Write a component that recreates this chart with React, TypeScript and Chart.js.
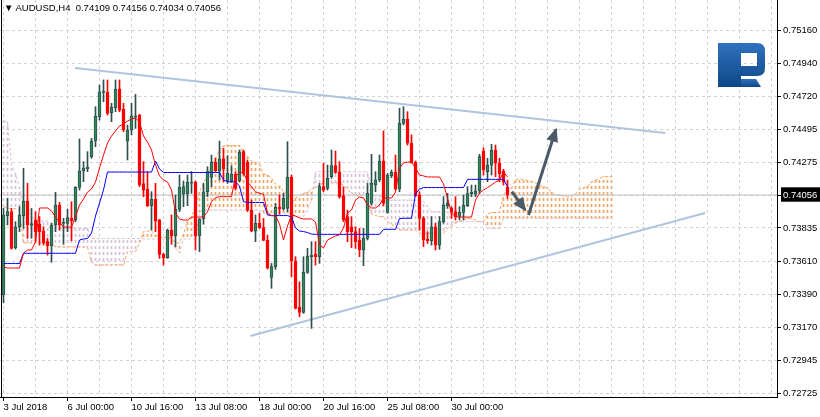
import React, { useEffect, useRef } from 'react';
import { Chart, registerables } from 'chart.js';

Chart.register(...registerables);

// ---------------- header ----------------
const SYMBOL = 'AUDUSD,H4';
const HEADER_OHLC = ['0.74109', '0.74156', '0.74034', '0.74056'];
const LAST_PRICE = 0.74056;

// ---------------- axes ----------------
const X_LABELS = ['3 Jul 2018', '6 Jul 00:00', '10 Jul 16:00', '13 Jul 08:00', '18 Jul 00:00', '20 Jul 16:00', '25 Jul 08:00', '30 Jul 00:00'];
const X_LABEL_STEP = 16; // bars between date labels
const X_GRID_STEP = 8; // bars between vertical grid lines
const Y_TICKS = [0.72725, 0.72945, 0.7317, 0.7339, 0.7361, 0.73835, 0.74056, 0.74275, 0.74495, 0.7472, 0.7494, 0.7516];
const X_MIN = -0.875;
const X_MAX = 193.375;
const Y_MIN = 0.727006;
const Y_MAX = 0.753645;

// ---------------- candles (H4) ----------------
const OPEN = [
  0.73385, 0.73917, 0.73944, 0.73702, 0.73843, 0.73917, 0.74016, 0.73852, 0.73888, 0.73861,
  0.73814, 0.73743, 0.73716, 0.73855, 0.73989, 0.73866, 0.73866, 0.73899, 0.73888, 0.74107,
  0.74219, 0.74233, 0.74313, 0.7442, 0.74582, 0.74745, 0.74745, 0.74608, 0.74642, 0.74767,
  0.74631, 0.74418, 0.74492, 0.74579, 0.74593, 0.74132, 0.74096, 0.73984, 0.74029, 0.73888,
  0.73658, 0.73636, 0.73821, 0.73781, 0.7396, 0.74063, 0.74063, 0.74136, 0.74141, 0.73781,
  0.73895, 0.74078, 0.74174, 0.74275, 0.74217, 0.74298, 0.7415, 0.7415, 0.74197, 0.7415,
  0.74347, 0.74275, 0.73955, 0.73814, 0.73866, 0.73837, 0.73752, 0.73503, 0.73575, 0.73973,
  0.73962, 0.73966, 0.74174, 0.73615, 0.73302, 0.73268, 0.73537, 0.73642, 0.73658, 0.73642,
  0.74112, 0.741, 0.74179, 0.74253, 0.74208, 0.7405, 0.73911, 0.73843, 0.7381, 0.73754,
  0.73687, 0.73765, 0.74, 0.74123, 0.74157, 0.74284, 0.73939, 0.74186, 0.74208, 0.74096,
  0.74537, 0.74566, 0.74403, 0.74275, 0.74056, 0.73899, 0.73761, 0.73749, 0.73843, 0.7372,
  0.73877, 0.73984, 0.73966, 0.73944, 0.73913, 0.73939, 0.73984, 0.74063, 0.74061, 0.74083,
  0.74351, 0.74213, 0.74257, 0.74358, 0.74269, 0.74217, 0.74109,
];
const HIGH = [
  0.73966, 0.74034, 0.73966, 0.73877, 0.73978, 0.74235, 0.74134, 0.73966, 0.73944, 0.73911,
  0.73843, 0.73765, 0.73866, 0.74074, 0.74007, 0.73899, 0.73962, 0.74011, 0.74112, 0.74432,
  0.7428, 0.74347, 0.74436, 0.74649, 0.74794, 0.74828, 0.74828, 0.74671, 0.74828, 0.74828,
  0.74671, 0.74526, 0.74671, 0.74731, 0.74598, 0.7428, 0.74213, 0.74078, 0.74134, 0.73893,
  0.73665, 0.73828, 0.73922, 0.74056, 0.7419, 0.7415, 0.7419, 0.74213, 0.7415, 0.73899,
  0.74134, 0.74246, 0.74324, 0.74302, 0.74418, 0.74369, 0.7432, 0.74253, 0.74213, 0.74358,
  0.74358, 0.74291, 0.74022, 0.73922, 0.73933, 0.73899, 0.73787, 0.73597, 0.74, 0.74056,
  0.74067, 0.74414, 0.7419, 0.73642, 0.73474, 0.73642, 0.73698, 0.73743, 0.73743, 0.74134,
  0.74269, 0.74257, 0.74358, 0.74351, 0.7428, 0.74112, 0.73955, 0.73911, 0.73843, 0.73832,
  0.73832, 0.74134, 0.74329, 0.74213, 0.74324, 0.74486, 0.74201, 0.74224, 0.74324, 0.74638,
  0.74649, 0.74615, 0.74459, 0.74284, 0.74078, 0.73911, 0.7381, 0.73911, 0.73866, 0.73911,
  0.74045, 0.74067, 0.73978, 0.74045, 0.73978, 0.74056, 0.74112, 0.74123, 0.74123, 0.74329,
  0.74373, 0.74302, 0.74396, 0.74391, 0.74302, 0.74228, 0.74156,
];
const LOW = [
  0.73333, 0.73855, 0.73693, 0.73693, 0.7381, 0.73832, 0.73765, 0.73765, 0.73743, 0.7372,
  0.7372, 0.73653, 0.73604, 0.7381, 0.73821, 0.73725, 0.7381, 0.73749, 0.73877, 0.74089,
  0.74145, 0.74213, 0.74302, 0.7438, 0.74559, 0.74682, 0.74593, 0.74548, 0.74615, 0.74615,
  0.74481, 0.74291, 0.74459, 0.74503, 0.74112, 0.74045, 0.73978, 0.73821, 0.7381, 0.73631,
  0.73586, 0.73631, 0.73725, 0.73709, 0.73944, 0.73978, 0.73984, 0.74067, 0.73687, 0.73676,
  0.7386, 0.74045, 0.74112, 0.74213, 0.74157, 0.74145, 0.74134, 0.74141, 0.74089, 0.74145,
  0.7419, 0.73944, 0.7381, 0.73743, 0.73832, 0.73749, 0.73559, 0.7343, 0.73557, 0.73926,
  0.73955, 0.73944, 0.73508, 0.73291, 0.73239, 0.73262, 0.7353, 0.73161, 0.73586, 0.73597,
  0.74078, 0.74089, 0.74168, 0.74201, 0.74034, 0.73877, 0.73743, 0.73702, 0.73698, 0.73642,
  0.73582, 0.73754, 0.73989, 0.74078, 0.74145, 0.73984, 0.73933, 0.74172, 0.74089, 0.74078,
  0.74526, 0.74391, 0.74269, 0.74045, 0.73821, 0.73709, 0.73731, 0.7372, 0.73687, 0.73691,
  0.73866, 0.73966, 0.73899, 0.73888, 0.73888, 0.73888, 0.73978, 0.74045, 0.74045, 0.74067,
  0.7419, 0.74145, 0.7419, 0.74179, 0.74145, 0.74123, 0.74034,
];
const CLOSE = [
  0.73922, 0.73944, 0.73698, 0.73843, 0.73922, 0.74016, 0.73855, 0.73864, 0.7381, 0.7381,
  0.73736, 0.73716, 0.73852, 0.73989, 0.73855, 0.73873, 0.73904, 0.73884, 0.74107, 0.74219,
  0.74237, 0.74244, 0.74418, 0.74586, 0.74749, 0.74754, 0.74604, 0.74644, 0.74767, 0.74626,
  0.74492, 0.74492, 0.74588, 0.74588, 0.74123, 0.74089, 0.73982, 0.74029, 0.73881, 0.73658,
  0.73636, 0.73821, 0.73781, 0.7396, 0.74107, 0.74112, 0.74141, 0.74141, 0.73781, 0.73895,
  0.74078, 0.74213, 0.74275, 0.74217, 0.74298, 0.74231, 0.74201, 0.74197, 0.741, 0.74342,
  0.74201, 0.73955, 0.73814, 0.73866, 0.73837, 0.73752, 0.73568, 0.73575, 0.73973, 0.73962,
  0.74034, 0.74174, 0.73615, 0.73295, 0.73268, 0.73537, 0.73647, 0.73653, 0.73642, 0.74112,
  0.74089, 0.74168, 0.74253, 0.74208, 0.74045, 0.73888, 0.7381, 0.7381, 0.73743, 0.73687,
  0.73765, 0.74067, 0.74134, 0.74157, 0.74284, 0.74, 0.7419, 0.74208, 0.74096, 0.74537,
  0.74566, 0.74403, 0.74275, 0.74051, 0.73899, 0.73754, 0.73749, 0.73843, 0.7372, 0.73877,
  0.73989, 0.74, 0.73939, 0.73911, 0.73939, 0.73989, 0.74065, 0.74074, 0.74083, 0.74313,
  0.74224, 0.74257, 0.74358, 0.74269, 0.74197, 0.74145, 0.74056,
];

// ---------------- Ichimoku ----------------
const TENKAN = [
  0.73573, 0.73566, 0.73566, 0.73566, 0.73566, 0.73667, 0.73687, 0.73687, 0.73741, 0.73969,
  0.73969, 0.73969, 0.73949, 0.73908, 0.73875, 0.73841, 0.73841, 0.73841, 0.73908, 0.73989,
  0.74029, 0.74076, 0.74096, 0.74143, 0.74237, 0.74324, 0.74405, 0.74452, 0.74485, 0.74519,
  0.74532, 0.74553, 0.74566, 0.74573, 0.74546, 0.74452, 0.74412, 0.74358, 0.74257, 0.74184,
  0.74157, 0.74143, 0.7409, 0.73935, 0.73895, 0.73888, 0.73888, 0.73908, 0.73908, 0.73908,
  0.73908, 0.73944, 0.74011, 0.74038, 0.74045, 0.74045, 0.74045, 0.74045, 0.74179, 0.74208,
  0.74208, 0.74145, 0.74112, 0.74078, 0.74067, 0.74061, 0.73933, 0.73917, 0.73917, 0.73861,
  0.73754, 0.73848, 0.73922, 0.73915, 0.73902, 0.73895, 0.73895, 0.73895, 0.73875, 0.73721,
  0.737, 0.73754, 0.73768, 0.73781, 0.73788, 0.73835, 0.73935, 0.73955, 0.74022, 0.74043,
  0.74036, 0.73989, 0.73969, 0.73969, 0.73989, 0.74036, 0.74036, 0.74036, 0.74076, 0.74237,
  0.74271, 0.74277, 0.74277, 0.74237, 0.7419, 0.74184, 0.74177, 0.74177, 0.74177, 0.74177,
  0.7413, 0.74036, 0.73935, 0.7391, 0.73908, 0.73908, 0.73908, 0.73908, 0.74022, 0.74069,
  0.7409, 0.74106, 0.74123, 0.74143, 0.74157, 0.7421, 0.74177,
];
const KIJUN = [
  0.73596, 0.73596, 0.73596, 0.73596, 0.73596, 0.73665, 0.73665, 0.73665, 0.73665, 0.73665,
  0.73665, 0.73665, 0.73665, 0.73665, 0.73665, 0.73665, 0.73665, 0.73665, 0.73665, 0.73754,
  0.73761, 0.73764, 0.73801, 0.73915, 0.74002, 0.7409, 0.7421, 0.7421, 0.7421, 0.7421,
  0.7421, 0.7421, 0.7421, 0.7421, 0.7421, 0.7421, 0.7421, 0.7421, 0.74284, 0.74231,
  0.74207, 0.74207, 0.74207, 0.74207, 0.74207, 0.74207, 0.74207, 0.74207, 0.74207, 0.74207,
  0.74207, 0.74207, 0.74207, 0.74207, 0.74207, 0.74157, 0.74145, 0.74145, 0.74145, 0.74116,
  0.74011, 0.74006, 0.74006, 0.74006, 0.74006, 0.74006, 0.73922, 0.73918, 0.73918, 0.73918,
  0.73918, 0.73918, 0.73908, 0.73835, 0.73814, 0.73811, 0.73804, 0.73794, 0.73792, 0.73792,
  0.73792, 0.73792, 0.73792, 0.73792, 0.73792, 0.73792, 0.73792, 0.73792, 0.73792, 0.73792,
  0.73792, 0.73792, 0.73792, 0.73792, 0.73792, 0.73825, 0.73826, 0.73826, 0.73826, 0.73898,
  0.739, 0.739, 0.739, 0.74063, 0.74096, 0.74106, 0.74106, 0.74106, 0.74106, 0.74106,
  0.74106, 0.74106, 0.74106, 0.74106, 0.74106, 0.74106, 0.74161, 0.74161, 0.74161, 0.74161,
  0.74161, 0.74161, 0.74161, 0.74161, 0.74161, 0.74161, 0.74112,
];
const SPAN_A = [
  0.73975, 0.73969, 0.73965, 0.73965, 0.73955, 0.73734, 0.73734, 0.73734, 0.73734, 0.73734,
  0.73734, 0.73734, 0.73734, 0.73709, 0.73707, 0.73707, 0.73707, 0.73707, 0.73707, 0.73707,
  0.73707, 0.73707, 0.73606, 0.73586, 0.73586, 0.73586, 0.73586, 0.73586, 0.73586, 0.73586,
  0.73586, 0.73674, 0.73677, 0.73677, 0.73734, 0.73811, 0.73814, 0.73814, 0.73788, 0.73771,
  0.73771, 0.73771, 0.73771, 0.73734, 0.73734, 0.73794, 0.73882, 0.73902, 0.73989, 0.74076,
  0.74137, 0.7419, 0.74251, 0.74304, 0.74351, 0.74385, 0.74388, 0.74388, 0.74388, 0.74388,
  0.74338, 0.74313, 0.74284, 0.74275, 0.74262, 0.74197, 0.7419, 0.7417, 0.7413, 0.74116,
  0.74076, 0.74074, 0.74002, 0.74036, 0.74049, 0.74066, 0.74076, 0.74096, 0.74105, 0.74123,
  0.74137, 0.74137, 0.74137, 0.74137, 0.74137, 0.74123, 0.7409, 0.74069, 0.74056, 0.74046,
  0.74036, 0.74022, 0.73929, 0.73918, 0.73912, 0.7391, 0.73875, 0.73861, 0.73841, 0.73821,
  0.73821, 0.73821, 0.73821, 0.73821, 0.73799, 0.73799, 0.73799, 0.73799, 0.73799, 0.73799,
  0.73799, 0.73833, 0.73848, 0.73868, 0.73877, 0.73888, 0.739, 0.73895, 0.73888, 0.73877,
  0.73877, 0.73929, 0.73939, 0.73939, 0.73939, 0.74056, 0.7409, 0.74101, 0.74157, 0.74168,
  0.74157, 0.74153, 0.74147, 0.74137, 0.74123, 0.74112, 0.74101, 0.74076, 0.74056, 0.74056,
  0.74049, 0.74045, 0.74045, 0.74063, 0.74096, 0.74103, 0.74116, 0.74143, 0.74157, 0.74167,
  0.74179, 0.74179, 0.74179,
];
const SPAN_B = [
  0.74553, 0.74546, 0.74257, 0.74204, 0.74103, 0.73989, 0.73975, 0.73922, 0.73882, 0.73882,
  0.73882, 0.73882, 0.73868, 0.73848, 0.73835, 0.73831, 0.73831, 0.73831, 0.73831, 0.73831,
  0.73831, 0.73831, 0.73764, 0.73764, 0.73764, 0.73764, 0.73764, 0.73764, 0.73764, 0.73764,
  0.73764, 0.73764, 0.73764, 0.73764, 0.73764, 0.73761, 0.73761, 0.73761, 0.73761, 0.73761,
  0.73761, 0.73761, 0.73761, 0.737, 0.73667, 0.73761, 0.73761, 0.73761, 0.73761, 0.73942,
  0.73955, 0.73955, 0.73955, 0.73955, 0.73955, 0.73955, 0.73955, 0.73955, 0.73955, 0.73955,
  0.73955, 0.73955, 0.73955, 0.73955, 0.73955, 0.73935, 0.73935, 0.73935, 0.73935, 0.73935,
  0.73935, 0.73935, 0.73935, 0.73915, 0.73915, 0.73915, 0.73955, 0.74022, 0.74212, 0.74212,
  0.74212, 0.74212, 0.74212, 0.74212, 0.74212, 0.74212, 0.74212, 0.74212, 0.74212, 0.74212,
  0.74212, 0.74212, 0.74069, 0.74045, 0.74045, 0.74045, 0.74022, 0.74022, 0.74022, 0.74022,
  0.74022, 0.74022, 0.74022, 0.74022, 0.74022, 0.74011, 0.73982, 0.73944, 0.73944, 0.73944,
  0.73944, 0.73944, 0.73877, 0.73877, 0.73877, 0.73877, 0.73877, 0.73877, 0.73877, 0.73877,
  0.73877, 0.73835, 0.73833, 0.73833, 0.73833, 0.739, 0.739, 0.739, 0.739, 0.739,
  0.739, 0.739, 0.739, 0.739, 0.739, 0.739, 0.739, 0.739, 0.739, 0.739,
  0.739, 0.739, 0.739, 0.739, 0.739, 0.739, 0.739, 0.739, 0.739, 0.739,
  0.739, 0.739, 0.739,
];

// ---------------- drawn objects (bar index, price) ----------------
const TREND_UPPER = [[17.9, 0.74908], [165.4, 0.74472]];
const TREND_LOWER = [[61.7, 0.7311], [175.4, 0.73935]];
const ARROW_DOWN = [[127.1, 0.74078], [130.4, 0.73956]];
const ARROW_UP = [[131.25, 0.73922], [138.1, 0.74495]];

// ---------------- styles ----------------
const FONT = { family: '"Liberation Sans", Arial, sans-serif', size: 9.5 };
const GRID_COLOR = '#d3d3d3';
const BULL_BODY = '#2e8b57';
const BULL_LINE = '#2f4f4f';
const BEAR = '#ff0000';
const SPAN_A_COLOR = '#f4a460';
const SPAN_B_COLOR = '#d8bfd8';
const TREND_COLOR = '#b0c4de';
const ARROW_COLOR = '#4b5a66';

function makeHatch(color: string): CanvasPattern | string {
  const c = document.createElement('canvas');
  c.width = 1;
  c.height = 6;
  const g = c.getContext('2d');
  if (!g) return color;
  g.fillStyle = color;
  g.fillRect(0, 0, 1, 3);
  return g.createPattern(c, 'repeat') || color;
}

const pts = (arr: number[][]) => arr.map(([x, y]) => ({ x, y }));

const decorPlugin = {
  id: 'decor',
  afterDatasetsDraw(chart: any) {
    const ctx = chart.ctx;
    chart.data.datasets.forEach((ds: any, di: number) => {
      if (!ds.arrowHead) return;
      const data = chart.getDatasetMeta(di).data;
      const a = data[0];
      const b = data[data.length - 1];
      const dx = b.x - a.x;
      const dy = b.y - a.y;
      const L = Math.hypot(dx, dy) || 1;
      const ux = dx / L;
      const uy = dy / L;
      const tipX = b.x + ux * 2;
      const tipY = b.y + uy * 2;
      const len = 14;
      const half = 6;
      const bx = tipX - ux * len;
      const by = tipY - uy * len;
      ctx.save();
      ctx.fillStyle = ds.borderColor;
      ctx.beginPath();
      ctx.moveTo(tipX, tipY);
      ctx.lineTo(bx - uy * half, by + ux * half);
      ctx.lineTo(bx + uy * half, by - ux * half);
      ctx.closePath();
      ctx.fill();
      ctx.restore();
    });
  },
  afterDraw(chart: any) {
    const { ctx, chartArea } = chart;
    ctx.save();
    ctx.fillStyle = '#000';
    ctx.fillRect(chartArea.left + 1, chartArea.top, 1, chartArea.bottom - chartArea.top);
    ctx.restore();
  },
};

export default function App() {
  const ref = useRef<HTMLCanvasElement>(null);

  useEffect(() => {
    document.body.style.margin = '0';
    const canvas = ref.current;
    if (!canvas) return;

    const bars = OPEN.map((_, i) => i);
    const bull = bars.map((i) => CLOSE[i] >= OPEN[i]);
    const hatchA = makeHatch(SPAN_A_COLOR);
    const hatchB = makeHatch(SPAN_B_COLOR);
    const cloudBars = SPAN_A.map((_, i) => i);

    const datasets: any[] = [
      {
        type: 'bar',
        label: 'cloud',
        data: cloudBars.map((i) => ({ x: i, y: [SPAN_A[i], SPAN_B[i]] })),
        backgroundColor: cloudBars.map((i) => (SPAN_A[i] >= SPAN_B[i] ? hatchA : hatchB)),
        borderWidth: 0,
        barThickness: 1,
        grouped: false,
        order: 10,
      },
      {
        type: 'line',
        label: 'Senkou A',
        data: cloudBars.map((i) => ({ x: i, y: SPAN_A[i] })),
        borderColor: SPAN_A_COLOR,
        borderWidth: 1,
        borderDash: [3, 2],
        pointRadius: 0,
        tension: 0,
        order: 9,
      },
      {
        type: 'line',
        label: 'Senkou B',
        data: cloudBars.map((i) => ({ x: i, y: SPAN_B[i] })),
        borderColor: SPAN_B_COLOR,
        borderWidth: 1,
        borderDash: [3, 2],
        pointRadius: 0,
        tension: 0,
        order: 9,
      },
      {
        type: 'line',
        label: 'price',
        data: [
          { x: X_MIN, y: LAST_PRICE },
          { x: X_MAX, y: LAST_PRICE },
        ],
        borderColor: '#c0c0c0',
        borderWidth: 1,
        pointRadius: 0,
        order: 8,
      },
      {
        type: 'line',
        label: 'trend upper',
        data: pts(TREND_UPPER),
        borderColor: TREND_COLOR,
        borderWidth: 2,
        pointRadius: 0,
        order: 7,
      },
      {
        type: 'line',
        label: 'trend lower',
        data: pts(TREND_LOWER),
        borderColor: TREND_COLOR,
        borderWidth: 2,
        pointRadius: 0,
        order: 7,
      },
      {
        type: 'bar',
        label: 'wick',
        data: bars.map((i) => ({ x: i, y: [LOW[i], HIGH[i]] })),
        backgroundColor: bars.map((i) => (bull[i] ? BULL_LINE : BEAR)),
        borderWidth: 0,
        barThickness: 1,
        grouped: false,
        order: 6,
      },
      {
        type: 'bar',
        label: 'body',
        data: bars.map((i) => ({ x: i, y: [OPEN[i], CLOSE[i]] })),
        backgroundColor: bars.map((i) => (bull[i] ? BULL_BODY : BEAR)),
        borderColor: bars.map((i) => (bull[i] ? BULL_LINE : BEAR)),
        borderWidth: 1,
        borderSkipped: false,
        barThickness: 3,
        minBarLength: 1,
        grouped: false,
        order: 5,
      },
      {
        type: 'line',
        label: 'Kijun-sen',
        data: bars.map((i) => ({ x: i, y: KIJUN[i] })),
        borderColor: '#0000ff',
        borderWidth: 1,
        pointRadius: 0,
        tension: 0,
        order: 4,
      },
      {
        type: 'line',
        label: 'Tenkan-sen',
        data: bars.map((i) => ({ x: i, y: TENKAN[i] })),
        borderColor: '#ff0000',
        borderWidth: 1,
        pointRadius: 0,
        tension: 0,
        order: 3,
      },
      {
        type: 'line',
        label: 'arrow down',
        data: pts(ARROW_DOWN),
        borderColor: ARROW_COLOR,
        borderWidth: 3,
        pointRadius: 0,
        arrowHead: true,
        order: 1,
      },
      {
        type: 'line',
        label: 'arrow up',
        data: pts(ARROW_UP),
        borderColor: ARROW_COLOR,
        borderWidth: 3,
        pointRadius: 0,
        arrowHead: true,
        order: 1,
      },
    ];

    const gridTicks: number[] = [];
    for (let v = 0; v <= X_MAX; v += X_GRID_STEP) gridTicks.push(v);
    const isLabeled = (v: number) => v % X_LABEL_STEP === 0 && v / X_LABEL_STEP < X_LABELS.length;

    const chart = new Chart(canvas, {
      type: 'bar',
      data: { datasets },
      options: {
        responsive: false,
        animation: false,
        events: [],
        layout: { padding: 0 },
        plugins: {
          legend: { display: false },
          tooltip: { enabled: false },
          title: { display: false },
        },
        scales: {
          x: {
            type: 'linear',
            min: X_MIN,
            max: X_MAX,
            offset: false,
            afterBuildTicks: (s: any) => {
              s.ticks = gridTicks.map((v) => ({ value: v }));
            },
            afterFit: (s: any) => {
              s.height = 20;
              s.paddingLeft = 0;
              s.paddingRight = 0;
            },
            ticks: {
              autoSkip: false,
              maxRotation: 0,
              minRotation: 0,
              align: 'start',
              padding: 1,
              color: '#000',
              font: FONT,
              callback: (v: any) => (isLabeled(Number(v)) ? X_LABELS[Number(v) / X_LABEL_STEP] : ''),
            },
            grid: {
              offset: false,
              color: GRID_COLOR,
              lineWidth: 1,
              drawTicks: true,
              tickLength: 4,
              tickWidth: 1,
              tickColor: (ctx: any) => (ctx.tick && isLabeled(ctx.tick.value) ? '#000' : 'rgba(0,0,0,0)'),
            },
            border: { display: true, color: '#000', width: 1, dash: [3, 3] },
          },
          y: {
            type: 'linear',
            position: 'right',
            min: Y_MIN,
            max: Y_MAX,
            afterBuildTicks: (s: any) => {
              s.ticks = Y_TICKS.map((v) => ({ value: v }));
            },
            afterFit: (s: any) => {
              s.width = 43;
              s.paddingTop = 0;
              s.paddingBottom = 0;
            },
            ticks: {
              padding: 2,
              font: FONT,
              color: (ctx: any) => (ctx.tick && ctx.tick.value === LAST_PRICE ? '#fff' : '#000'),
              showLabelBackdrop: (ctx: any) => !!(ctx.tick && ctx.tick.value === LAST_PRICE),
              backdropColor: '#000',
              backdropPadding: { top: 2, bottom: 1, left: 2, right: 4 },
              callback: (v: any) => Number(v).toFixed(5),
            },
            grid: {
              color: GRID_COLOR,
              lineWidth: 1,
              drawTicks: true,
              tickLength: 4,
              tickWidth: 1,
              tickColor: '#000',
            },
            border: { display: true, color: '#000', width: 1, dash: [3, 3] },
          },
        },
      } as any,
      plugins: [decorPlugin as any],
    });

    return () => chart.destroy();
  }, []);

  return (
    <div style={{ position: 'fixed', left: 0, top: 0, width: 820, height: 417, background: '#fff', overflow: 'hidden' }}>
      <canvas ref={ref} width={820} height={417} style={{ display: 'block', width: 820, height: 417 }} />
      <div
        style={{
          position: 'absolute',
          left: 4,
          top: 2,
          font: '9.5px "Liberation Sans", Arial, sans-serif',
          color: '#000',
          whiteSpace: 'pre',
          lineHeight: '12px',
        }}
      >
        {'▼ ' + SYMBOL + '  ' + HEADER_OHLC.join(' ')}
      </div>
      <svg width={820} height={417} style={{ position: 'absolute', left: 0, top: 0, pointerEvents: 'none' }}>
        <defs>
          <linearGradient id="rfg" x1="0" y1="0" x2="0" y2="1">
            <stop offset="0" stopColor="#2f72bd" />
            <stop offset="1" stopColor="#0e4787" />
          </linearGradient>
        </defs>
        <path
          d="M718 43 H757 Q765 43 765 51 V68 Q765 76 757 76 H741 V87 H718 Z M741 53 V66 H757 V53 Z"
          fill="url(#rfg)"
          fillRule="evenodd"
        />
        <path d="M741 79 H756 L761 87 H741 Z" fill="url(#rfg)" />
      </svg>
    </div>
  );
}
